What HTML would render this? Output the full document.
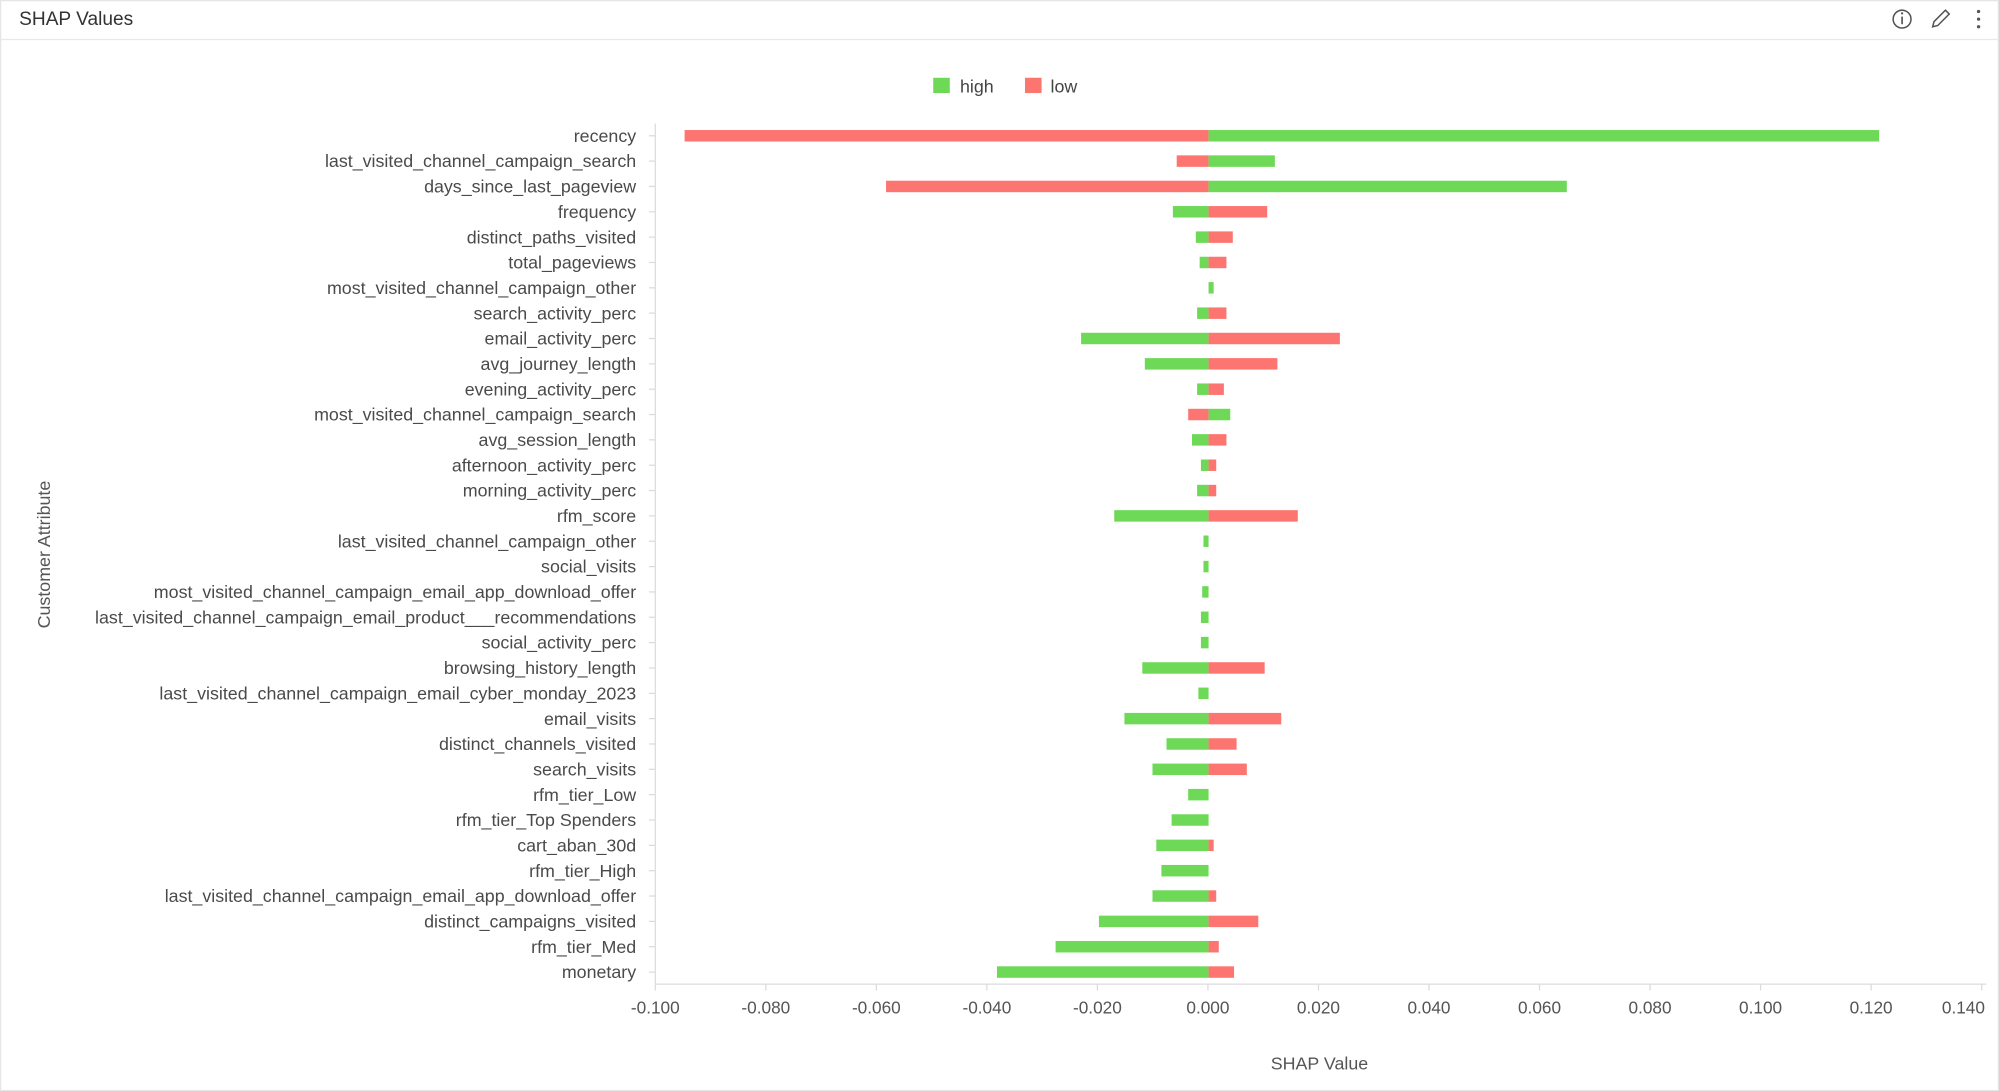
<!DOCTYPE html>
<html><head><meta charset="utf-8"><style>
html,body{margin:0;padding:0;background:#fff;}
svg{display:block;}
text{font-family:"Liberation Sans",sans-serif;}
</style></head><body>
<svg width="1999" height="1091" viewBox="0 0 1568 855.8" xmlns="http://www.w3.org/2000/svg">
<rect width="1568" height="855.8" fill="#fff"/>
<rect x="0.5" y="0.5" width="1567" height="855" fill="none" stroke="#e6e6e6"/>
<line x1="0" y1="31" x2="1568" y2="31" stroke="#e8e8e8"/>
<text x="15" y="19.5" font-size="15" fill="#333">SHAP Values</text>
<circle cx="1492" cy="15" r="7" fill="none" stroke="#555" stroke-width="1.2"/>
<line x1="1492" y1="13" x2="1492" y2="19" stroke="#555" stroke-width="1.3"/>
<circle cx="1492" cy="10.5" r="0.9" fill="#555"/>
<path d="M1516 21 l1-4 l9-9 l3 3 l-9 9 z" fill="none" stroke="#555" stroke-width="1.2"/>
<circle cx="1552" cy="9" r="1.3" fill="#555"/><circle cx="1552" cy="15" r="1.3" fill="#555"/><circle cx="1552" cy="21" r="1.3" fill="#555"/>
<rect x="732" y="61" width="13" height="12" fill="#6dd957"/>
<text x="753" y="72.5" font-size="14" fill="#444">high</text>
<rect x="804" y="61" width="13" height="12" fill="#fd7570"/>
<text x="824" y="72.5" font-size="14" fill="#444">low</text>
<g id="grid" stroke="#dcdce0" stroke-width="1">
<line x1="514" y1="97" x2="514" y2="772"/>
<line x1="514" y1="772" x2="1558" y2="772"/>
</g>
<g id="xt" font-size="13.5" fill="#555" text-anchor="middle"></g>
<g id="bars"></g>
<g id="yl" font-size="14" fill="#4a4a4a" text-anchor="end"></g>
<text x="1035" y="839" font-size="14" fill="#555" text-anchor="middle">SHAP Value</text>
<text transform="translate(39,435) rotate(-90)" font-size="14" fill="#555" text-anchor="middle">Customer Attribute</text>
</svg>
<script>
const rows=[
["recency",537,"r",1474,"g"],
["last_visited_channel_campaign_search",923,"r",1000,"g"],
["days_since_last_pageview",695,"r",1229,"g"],
["frequency",920,"g",994,"r"],
["distinct_paths_visited",938,"g",967,"r"],
["total_pageviews",941,"g",962,"r"],
["most_visited_channel_campaign_other",948,"g",952,"g"],
["search_activity_perc",939,"g",962,"r"],
["email_activity_perc",848,"g",1051,"r"],
["avg_journey_length",898,"g",1002,"r"],
["evening_activity_perc",939,"g",960,"r"],
["most_visited_channel_campaign_search",932,"r",965,"g"],
["avg_session_length",935,"g",962,"r"],
["afternoon_activity_perc",942,"g",954,"r"],
["morning_activity_perc",939,"g",954,"r"],
["rfm_score",874,"g",1018,"r"],
["last_visited_channel_campaign_other",944,"g",948,"g"],
["social_visits",944,"g",948,"g"],
["most_visited_channel_campaign_email_app_download_offer",943,"g",948,"g"],
["last_visited_channel_campaign_email_product___recommendations",942,"g",948,"g"],
["social_activity_perc",942,"g",948,"g"],
["browsing_history_length",896,"g",992,"r"],
["last_visited_channel_campaign_email_cyber_monday_2023",940,"g",948,"g"],
["email_visits",882,"g",1005,"r"],
["distinct_channels_visited",915,"g",970,"r"],
["search_visits",904,"g",978,"r"],
["rfm_tier_Low",932,"g",948,"g"],
["rfm_tier_Top Spenders",919,"g",948,"g"],
["cart_aban_30d",907,"g",952,"r"],
["rfm_tier_High",911,"g",948,"g"],
["last_visited_channel_campaign_email_app_download_offer",904,"g",954,"r"],
["distinct_campaigns_visited",862,"g",987,"r"],
["rfm_tier_Med",828,"g",956,"r"],
["monetary",782,"g",968,"r"]];
const NS="http://www.w3.org/2000/svg",Z=948,col={g:"#6dd957",r:"#fd7570"};
const bars=document.getElementById("bars"),yl=document.getElementById("yl"),xt=document.getElementById("xt"),grid=document.getElementById("grid");
function el(t,a,p){const e=document.createElementNS(NS,t);for(const k in a)e.setAttribute(k,a[k]);p.appendChild(e);return e;}
rows.forEach((r,i)=>{const y=106.5+i*(762.5-106.5)/33;
 if(r[1]<Z)el("rect",{x:r[1],y:y-4.5,width:Z-r[1],height:9,fill:col[r[2]]},bars);
 if(r[3]>Z)el("rect",{x:Z,y:y-4.5,width:r[3]-Z,height:9,fill:col[r[4]]},bars);
 el("line",{x1:509,y1:y,x2:514,y2:y},grid);
 const t=el("text",{x:499,y:y+4.8},yl);t.textContent=r[0];});
const lab=["-0.100","-0.080","-0.060","-0.040","-0.020","0.000","0.020","0.040","0.060","0.080","0.100","0.120","0.140"];
lab.forEach((l,i)=>{const x=514+i*86.7;el("line",{x1:x,y1:772,x2:x,y2:777},grid);
 const t=el("text",i==12?{x:1557,y:795,"text-anchor":"end"}:{x:x,y:795},xt);t.textContent=l;});
</script>
</body></html>
